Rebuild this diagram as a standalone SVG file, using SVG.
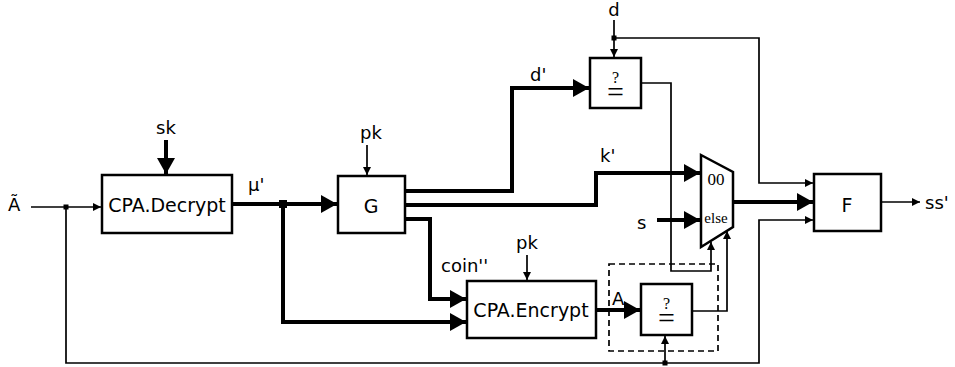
<svg xmlns="http://www.w3.org/2000/svg" width="955" height="367" viewBox="0 0 955 367">
<style>
  .box { fill: #fff; stroke: #000; stroke-width: 2.5; }
  .thin { fill: none; stroke: #000; stroke-width: 1.7; }
  .thick { fill: none; stroke: #000; stroke-width: 4; }
  .t { font-family: "DejaVu Sans", sans-serif; fill: #000; }
  .big { font-size: 19px; text-anchor: middle; }
  .lbl { font-size: 18px; }
  .serif { font-family: "Liberation Serif", "DejaVu Serif", serif; fill: #000; text-anchor: middle; }
</style>
<defs>
  <marker id="at" markerUnits="userSpaceOnUse" markerWidth="9" markerHeight="8" refX="8" refY="4" orient="auto">
    <path d="M0,0 L8,4 L0,8 Z" fill="#000"/>
  </marker>
  <marker id="ak" markerUnits="userSpaceOnUse" markerWidth="17" markerHeight="18" refX="16" refY="9" orient="auto">
    <path d="M0,0 L16,9 L0,18 Z" fill="#000"/>
  </marker>
</defs>

<g id="connectors">
  <!-- A tilde input -->
  <path class="thin" d="M31,207 H101" marker-end="url(#at)"/>
  <!-- sk -->
  <path class="thick" d="M166,140 V174" marker-end="url(#ak)"/>
  <!-- mu' to G -->
  <path class="thick" d="M232,204 H337" marker-end="url(#ak)"/>
  <!-- mu' branch to CPA.Encrypt -->
  <path class="thick" d="M283,204 V322 H466" marker-end="url(#ak)"/>
  <!-- pk to G -->
  <path class="thin" d="M367,145 V175" marker-end="url(#at)"/>
  <!-- G to d' -->
  <path class="thick" d="M405,191 H512 V88 H589" marker-end="url(#ak)"/>
  <!-- G to k' -->
  <path class="thick" d="M405,205 H596 V173 H700" marker-end="url(#ak)"/>
  <!-- G to coin'' -->
  <path class="thick" d="M405,219 H430 V299 H466" marker-end="url(#ak)"/>
  <!-- pk to CPA.Encrypt -->
  <path class="thin" d="M527,255 V280" marker-end="url(#at)"/>
  <!-- A -->
  <path class="thick" d="M596,310 H640" marker-end="url(#ak)"/>
  <!-- d input -->
  <path class="thin" d="M614,20 V57" marker-end="url(#at)"/>
  <!-- d to F -->
  <path class="thin" d="M614,38 H759 V183 H813" marker-end="url(#at)"/>
  <!-- eq1 out to mux -->
  <path class="thin" d="M641,83 H671 V271 H711 V242" marker-end="url(#at)"/>
  <!-- s -->
  <path class="thick" d="M657,220 H700" marker-end="url(#ak)"/>
  <!-- eq2 out to mux -->
  <path class="thin" d="M692,311 H727 V231" marker-end="url(#at)"/>
  <!-- mux to F -->
  <path class="thick" d="M733,202 H813" marker-end="url(#ak)"/>
  <!-- A tilde feedback -->
  <path class="thin" d="M66,207 V363 H759 V220 H813" marker-end="url(#at)"/>
  <path class="thin" d="M665,363 V336" marker-end="url(#at)"/>
  <!-- F out -->
  <path class="thin" d="M881,202 H920" marker-end="url(#at)"/>
  <!-- junctions -->
  <rect x="63.5" y="204.5" width="5" height="5" fill="#000"/>
  <rect x="279" y="200" width="8" height="8" fill="#000"/>
  <rect x="611.5" y="35.5" width="5" height="5" fill="#000"/>
  <rect x="662.5" y="360.5" width="5" height="5" fill="#000"/>
</g>

<g id="labels">
  <text class="t lbl" x="8" y="211">Ã</text>
  <text class="t lbl" x="166" y="134" text-anchor="middle">sk</text>
  <text class="t lbl" x="248" y="191">μ'</text>
  <text class="t lbl" x="371" y="139" text-anchor="middle">pk</text>
  <text class="t lbl" x="530" y="81">d'</text>
  <text class="t lbl" x="600" y="162">k'</text>
  <text class="t lbl" x="441" y="272">coin''</text>
  <text class="t lbl" x="527" y="249" text-anchor="middle">pk</text>
  <text class="t lbl" x="612" y="305">A</text>
  <text class="t lbl" x="614" y="16" text-anchor="middle">d</text>
  <text class="t lbl" x="637" y="229">s</text>
  <text class="t lbl" x="925" y="209">ss'</text>
</g>

<g id="cpa-decrypt">
  <rect class="box" x="102" y="175" width="130" height="58"/>
  <text class="t big" x="167" y="212">CPA.Decrypt</text>
</g>

<g id="g-box">
  <rect class="box" x="338" y="176" width="67" height="57"/>
  <text class="t big" x="371" y="213">G</text>
</g>

<g id="cpa-encrypt">
  <rect class="box" x="467" y="281" width="129" height="57"/>
  <text class="t big" x="531" y="317">CPA.Encrypt</text>
</g>

<g id="eq1">
  <rect class="box" x="590" y="58" width="51" height="50"/>
  <text class="serif"><tspan x="615.5" y="83" font-size="16">?</tspan><tspan x="615.5" y="102" font-size="30">=</tspan></text>
</g>

<g id="compare-group">
  <rect x="609" y="264" width="109" height="87" fill="none" stroke="#000" stroke-width="1.7" stroke-dasharray="6,4"/>
</g>

<g id="eq2">
  <rect class="box" x="641" y="284" width="51" height="51"/>
  <text class="serif"><tspan x="666.5" y="309" font-size="16">?</tspan><tspan x="666.5" y="328" font-size="30">=</tspan></text>
</g>

<g id="mux">
  <polygon points="701,155 733,172 733,227 701,247" fill="#fff" stroke="#000" stroke-width="2.5"/>
  <text class="serif" x="716" y="185" font-size="17">00</text>
  <text class="serif" x="716" y="223" font-size="15">else</text>
</g>

<g id="f-box">
  <rect class="box" x="814" y="174" width="67" height="57"/>
  <text class="t big" x="847" y="212">F</text>
</g>
</svg>
